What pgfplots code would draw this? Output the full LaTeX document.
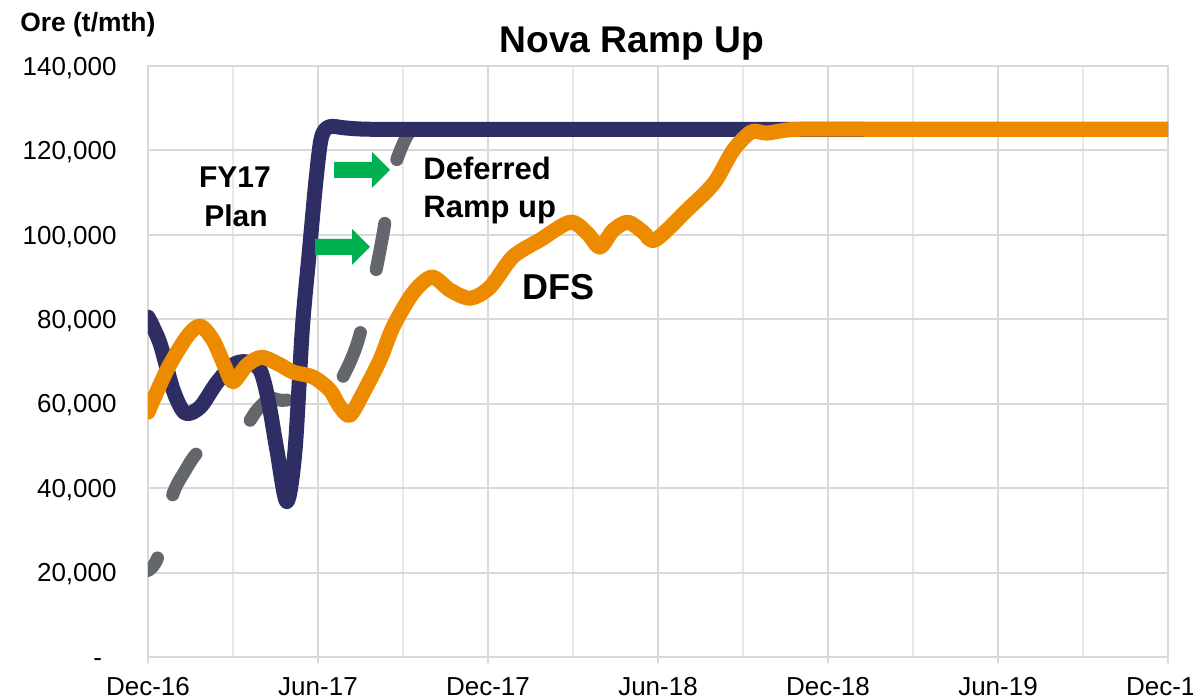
\documentclass[border=0pt]{standalone}
\usepackage{pgfplots}
\pgfplotsset{compat=1.18}
\usepackage{fontspec}
\setmainfont{Liberation Sans}
\definecolor{cnavy}{HTML}{2E2D64}
\definecolor{cdfs}{HTML}{ED8B00}
\definecolor{cgray}{HTML}{63666A}
\definecolor{cgreen}{HTML}{00B050}
\definecolor{gridmaj}{HTML}{D9D9D9}
\definecolor{gridmin}{HTML}{E8E8E8}
\begin{document}
\begin{tikzpicture}
\begin{axis}[
  at={(0,0)}, anchor=south west,
  scale only axis, width=510pt, height=295.5pt,
  xmin=0, xmax=36, ymin=0, ymax=140000,
  xtick={0,6,...,36},
  xticklabels={Dec-16,Jun-17,Dec-17,Jun-18,Dec-18,Jun-19,Dec-19},
  minor xtick={3,9,...,33},
  ytick={0,20000,...,140000},
  yticklabels={{-\phantom{0}},{20,000},{40,000},{60,000},{80,000},{100,000},{120,000},{140,000}},
  grid=both,
  major grid style={draw=gridmaj, line width=1pt},
  minor grid style={draw=gridmin, line width=1pt},
  axis line style={draw=gridmaj, line width=1pt},
  tick align=outside,
  major tick length=3pt, minor tick length=0pt,
  xtick pos=left, ytick pos=left,
  xtick style={draw=gridmaj, line width=1pt},
  ytick style={draw=none},
  ticklabel style={font=\fontsize{13}{15}\selectfont, inner sep=0pt},
  xticklabel style={anchor=north, yshift=-7pt},
  yticklabel style={anchor=base east, xshift=-12.5pt, yshift=-4.6pt},
  /pgf/number format/assume math mode=true,
  scaled y ticks=false,
  line cap=round, line join=round,
]
\addplot[cgray, line width=6.5pt, smooth, tension=0.5, dash pattern=on 23.5pt off 32.5pt, dash phase=15.5pt] coordinates {
(0,20500) (0.35,23700) (0.85,38000) (1.3,44000) (1.76,48500) (2.5,51500) (3.35,54000) (3.85,58500) (4.3,61200) (4.73,60800) (5.5,61300) (6.1,62000) (6.6,63500) (7.0,68000) (7.4,74600) (7.95,88600) (8.3,100400) (8.65,114700) (9.0,121500) (9.3,124800) (9.7,125000) (10.5,125000)
};
\addplot[cnavy, line width=7.5pt, smooth, tension=0.5] coordinates {
(0,80500) (0.42,74400) (0.89,63200) (1.31,57800) (1.84,59200) (2.42,64900) (3.0,69200) (3.48,69900) (3.95,68000) (4.24,61000) (4.55,49000) (4.9,36800) (5.19,49000) (5.45,78000) (5.7,96400) (5.93,113000) (6.12,123000) (6.4,125600) (7,125300) (8,125000) (12,125000) (20,125000) (28,125000) (36,125000)
};
\addplot[cdfs, line width=7.5pt, smooth, tension=0.5] coordinates {
(0,58000) (0.67,68000) (1.37,75800) (1.84,78400) (2.3,75000) (2.72,68700) (3.0,65200) (3.5,69200) (4.02,71000) (4.66,69200) (5.12,67500) (5.83,66300) (6.42,63200) (6.78,59200) (7.13,57300) (7.59,62500) (8.19,70400) (8.65,78200) (9.35,86200) (10.02,90000) (10.66,86900) (11.37,85000) (12.07,87600) (12.88,94800) (13.84,98800) (14.9,103000) (15.5,100400) (15.95,97100) (16.42,101100) (16.94,103000) (17.47,100700) (17.9,98800) (19.03,105900) (19.98,112300) (20.65,120000) (21.3,124400) (21.85,124100) (22.9,125000) (26,125000) (30,125000) (36,125000)
};
\end{axis}
\pgfresetboundingbox
\path[use as bounding box] (-74pt,-21pt) rectangle (522.5pt,328.5pt);
\begin{scope}[x=0.5pt,y=-0.5pt,shift={(-74pt,328.5pt)}]
\fill[cgreen] (334,162)--(372,162)--(372,152)--(390,170)--(372,188)--(372,178)--(334,178)--cycle;
\fill[cgreen] (315,239)--(352,239)--(352,229)--(370,247)--(352,265)--(352,255)--(315,255)--cycle;
\node[font=\bfseries\fontsize{18.6}{22}\selectfont, anchor=base, inner sep=0pt] at (632,53) {Nova Ramp Up};
\node[font=\bfseries\fontsize{13.2}{16}\selectfont, anchor=base west, inner sep=0pt] at (20,32) {Ore (t/mth)};
\node[font=\bfseries\fontsize{15}{18}\selectfont, anchor=base, inner sep=0pt] at (235,188) {FY17};
\node[font=\bfseries\fontsize{15}{18}\selectfont, anchor=base, inner sep=0pt] at (236,227) {Plan};
\node[font=\bfseries\fontsize{15.5}{18}\selectfont, anchor=base west, inner sep=0pt] at (423,180) {Deferred};
\node[font=\bfseries\fontsize{15.5}{18}\selectfont, anchor=base west, inner sep=0pt] at (423,218) {Ramp up};
\node[font=\bfseries\fontsize{18}{21}\selectfont, anchor=base west, inner sep=0pt] at (522,300) {DFS};
\end{scope}
\end{tikzpicture}
\end{document}
